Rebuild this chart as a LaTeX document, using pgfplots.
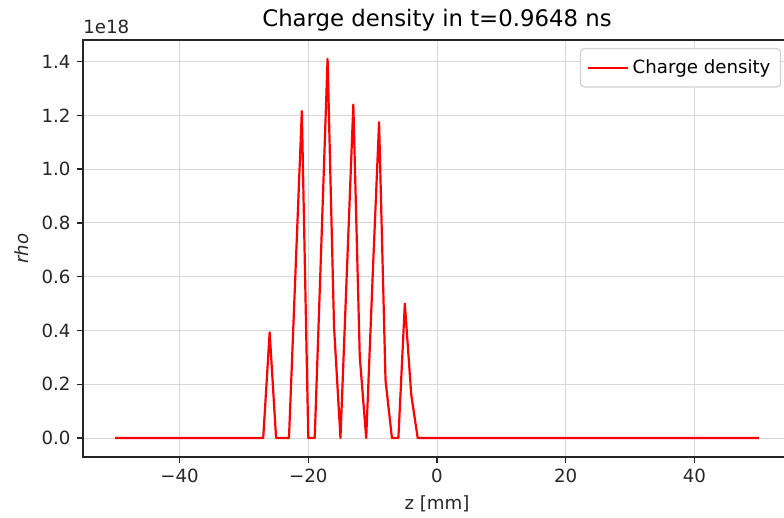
\documentclass[border=0pt]{standalone}
\usepackage{fontspec}
\setmainfont{DejaVu Sans}
\usepackage{pgfplots}
\usepackage{pgfplotstable}
\pgfplotsset{compat=1.18}
\definecolor{gridc}{RGB}{215,215,215}
\definecolor{spine}{RGB}{38,38,38}
\pgfplotstableread{
z rho
-50 0
-49 0
-48 0
-47 0
-46 0
-45 0
-44 0
-43 0
-42 0
-41 0
-40 0
-39 0
-38 0
-37 0
-36 0
-35 0
-34 0
-33 0
-32 0
-31 0
-30 0
-29 0
-28 0
-27 0
-26 0.393
-25 0
-24 0
-23 0
-22 0.61
-21 1.216
-20 0
-19 0
-18 0.70
-17 1.41
-16 0.415
-15 0
-14 0.62
-13 1.24
-12 0.303
-11 0
-10 0.60
-9 1.175
-8 0.215
-7 0
-6 0
-5 0.50
-4 0.161
-3 0
-2 0
-1 0
0 0
1 0
2 0
3 0
4 0
5 0
6 0
7 0
8 0
9 0
10 0
11 0
12 0
13 0
14 0
15 0
16 0
17 0
18 0
19 0
20 0
21 0
22 0
23 0
24 0
25 0
26 0
27 0
28 0
29 0
30 0
31 0
32 0
33 0
34 0
35 0
36 0
37 0
38 0
39 0
40 0
41 0
42 0
43 0
44 0
45 0
46 0
47 0
48 0
49 0
50 0
}\rhodata
\begin{document}
\fontsize{9.1bp}{11bp}\selectfont
\begin{tikzpicture}
\begin{axis}[
  scale only axis,
  width=354bp, height=208.5bp,
  at={(0,0)}, anchor=south west,
  clip=false,
  xmin=-55, xmax=55,
  ymin=-0.0705, ymax=1.4805,
  xtick={-40,-20,0,20,40},
  xticklabels={−40,−20,0,20,40},
  ytick={0,0.2,0.4,0.6,0.8,1.0,1.2,1.4},
  yticklabel style={/pgf/number format/fixed,/pgf/number format/zerofill,/pgf/number format/precision=1},
  /pgf/number format/assume math mode=true,
  tick align=outside,
  xtick pos=bottom, ytick pos=left,
  major tick length=3bp,
  tick style={spine, line width=0.7bp},
  axis line style={spine, line width=0.8bp},
  grid=major,
  major grid style={gridc, line width=0.5bp},
  ticklabel style={font=\fontsize{9.1bp}{11bp}\selectfont, text=spine},
  xlabel={z [mm]},
  ylabel={\textit{rho}},
  label style={font=\fontsize{9.1bp}{11bp}\selectfont, text=spine},
  title={Charge density in t=0.9648 ns},
  title style={font=\fontsize{11.4bp}{13bp}\selectfont, text=black, yshift=-5bp},
  legend style={at={(rel axis cs:0.986,0.981)}, anchor=north east,
    draw=gray!35, rounded corners=2bp, line width=0.6bp,
    font=\fontsize{9.1bp}{11bp}\selectfont, inner xsep=3bp, inner ysep=3.5bp},
  legend cell align=left,
  legend image code/.code={\draw[#1, line width=1.1bp] (0bp,0bp) -- (20bp,0bp);},
]
\addplot[red, line width=1.1bp, line join=round] table[x=z, y=rho] {\rhodata};
\addlegendentry{Charge density}
\node[anchor=south west, inner sep=0pt, text=spine, font=\fontsize{9.1bp}{11bp}\selectfont] at (rel axis cs:0,1) [yshift=3bp] {1e18};
\end{axis}
\pgfresetboundingbox
\useasboundingbox (-41.5bp,-30.5bp) rectangle (350.5bp,228.5bp);
\end{tikzpicture}
\end{document}
